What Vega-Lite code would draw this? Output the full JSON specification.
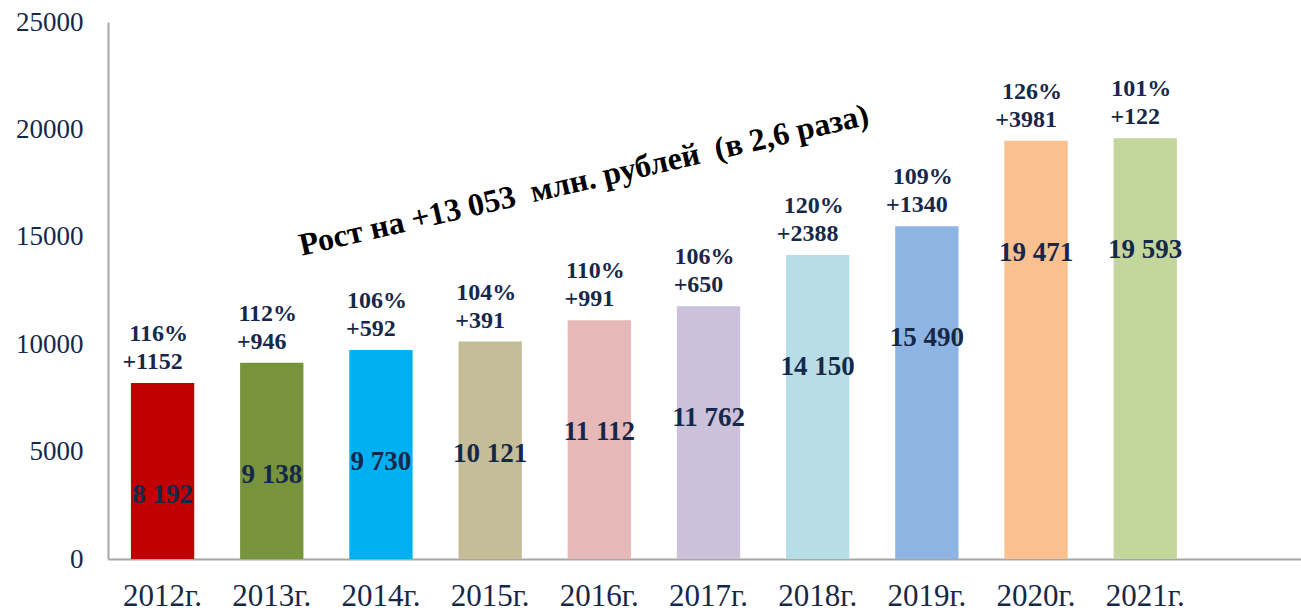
{
  "$schema": "https://vega.github.io/schema/vega-lite/v6.json",
  "autosize": "none",
  "width": 1201,
  "height": 537,
  "padding": {"left": 108, "top": 22, "right": 0, "bottom": 53},
  "background": "white",
  "config": {"view": {"stroke": null}, "font": "Liberation Serif"},
  "data": {"values": [
    {"year": "2012г.", "value": 8192, "label": "8 192", "pct": "116%", "inc": "+1152"},
    {"year": "2013г.", "value": 9138, "label": "9 138", "pct": "112%", "inc": "+946"},
    {"year": "2014г.", "value": 9730, "label": "9 730", "pct": "106%", "inc": "+592"},
    {"year": "2015г.", "value": 10121, "label": "10 121", "pct": "104%", "inc": "+391"},
    {"year": "2016г.", "value": 11112, "label": "11 112", "pct": "110%", "inc": "+991"},
    {"year": "2017г.", "value": 11762, "label": "11 762", "pct": "106%", "inc": "+650"},
    {"year": "2018г.", "value": 14150, "label": "14 150", "pct": "120%", "inc": "+2388"},
    {"year": "2019г.", "value": 15490, "label": "15 490", "pct": "109%", "inc": "+1340"},
    {"year": "2020г.", "value": 19471, "label": "19 471", "pct": "126%", "inc": "+3981"},
    {"year": "2021г.", "value": 19593, "label": "19 593", "pct": "101%", "inc": "+122"}
  ]},
  "layer": [
    {
      "encoding": {
        "x": {
          "field": "year", "type": "nominal", "sort": null,
          "scale": {"domain": ["2012г.", "2013г.", "2014г.", "2015г.", "2016г.", "2017г.", "2018г.", "2019г.", "2020г.", "2021г.", " "], "paddingInner": 0.42, "paddingOuter": 0.21},
          "axis": {"title": null, "labelAngle": 0, "ticks": false, "domainColor": "#a6a6a6", "domainWidth": 2, "labelFont": "Liberation Serif", "labelFontSize": 31, "labelColor": "#16284a", "labelPadding": 22}
        },
        "y": {
          "field": "value", "type": "quantitative",
          "scale": {"domain": [0, 25000], "nice": false, "zero": true},
          "axis": {"title": null, "values": [0, 5000, 10000, 15000, 20000, 25000], "format": "d", "ticks": false, "grid": false, "domainColor": "#a6a6a6", "domainWidth": 2, "labelFont": "Liberation Serif", "labelFontSize": 27, "labelColor": "#16284a", "labelPadding": 25}
        }
      },
      "layer": [
        {
          "mark": {"type": "bar"},
          "encoding": {
            "color": {
              "field": "year", "type": "nominal", "legend": null,
              "scale": {"domain": ["2012г.", "2013г.", "2014г.", "2015г.", "2016г.", "2017г.", "2018г.", "2019г.", "2020г.", "2021г."],
                        "range": ["#c00000", "#77933c", "#00b0f0", "#c4bd97", "#e6b9b8", "#ccc1da", "#b7dee8", "#8eb4e3", "#fac090", "#c3d69b"]}
            }
          }
        },
        {
          "mark": {"type": "text", "font": "Liberation Serif", "fontWeight": "bold", "fontSize": 27, "color": "#16284a", "baseline": "middle", "dy": 112},
          "encoding": {"text": {"field": "label"}}
        },
        {
          "mark": {"type": "text", "font": "Liberation Serif", "fontWeight": "bold", "fontSize": 24, "color": "#16284a", "baseline": "middle", "dy": -21, "dx": -10},
          "encoding": {"text": {"field": "inc"}}
        },
        {
          "mark": {"type": "text", "font": "Liberation Serif", "fontWeight": "bold", "fontSize": 24, "color": "#16284a", "baseline": "middle", "dy": -49, "dx": -4},
          "encoding": {"text": {"field": "pct"}}
        }
      ]
    },
    {
      "data": {"values": [{"year": "2016г.", "value": 17800, "note": "Рост на +13 053\u00a0\u00a0млн. рублей\u00a0\u00a0(в 2,6 раза)"}]},
      "mark": {"type": "text", "font": "Liberation Serif", "fontWeight": "bold", "fontSize": 32, "color": "#000000", "angle": -13, "align": "center", "baseline": "middle", "dx": -16},
      "encoding": {
        "x": {"field": "year", "type": "nominal"},
        "y": {"field": "value", "type": "quantitative", "scale": {"domain": [0, 25000], "nice": false, "zero": true}},
        "text": {"field": "note"}
      }
    }
  ]
}
